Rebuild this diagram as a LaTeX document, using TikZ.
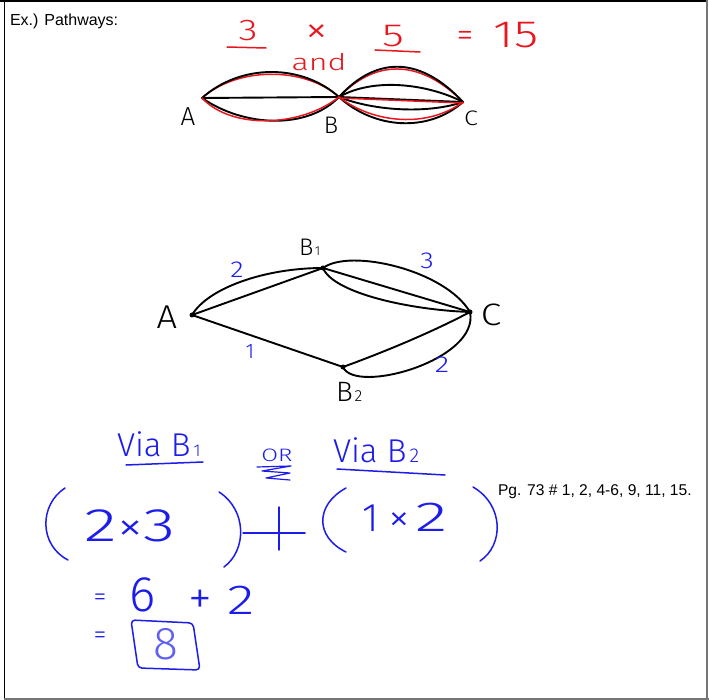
\documentclass[tikz,border=0pt]{standalone}
\usepackage{fontspec}
\usepackage{graphicx}
\setmainfont{Liberation Sans}
\IfFontExistsTF{Fira Sans Light}{\newfontfamily\hand{Fira Sans Light}}{\newfontfamily\hand{Fira Sans}}
\newcommand\hs[1]{\hand\fontsize{#1}{#1}\selectfont}
\newcommand\ps[1]{\fontsize{#1}{#1}\selectfont}
\newcommand\wx[2]{\scalebox{#1}[1]{#2}}
\definecolor{hred}{RGB}{232,22,30}
\definecolor{hblue}{RGB}{28,28,235}
\definecolor{lblue}{RGB}{95,95,240}
\definecolor{fgray}{RGB}{118,118,118}
\tikzset{
  blk/.style={line width=1.9pt, black, line cap=round},
  rl/.style={line width=1.5pt, hred, line cap=round},
  bl/.style={line width=1.5pt, hblue, line cap=round, line join=round},
  lbl/.style={inner sep=0pt, outer sep=0pt},
  dot/.style={circle, fill=black, inner sep=0pt, minimum size=5pt},
}
\begin{document}
\begin{tikzpicture}[x=1pt,y=-1pt]
\useasboundingbox (0,0) rectangle (709,700);
\fill[white] (0,0) rectangle (709,700);
% frame
\draw[fgray, line width=2.6pt] (707,0) -- (707,700);
\draw[fgray, line width=2.6pt] (4,698.8) -- (709,698.8);
\draw[black, line width=2.2pt] (0,1.1) -- (706,1.1);
\draw[black, line width=1.4pt] (4.7,0) -- (4.7,697.5);

% header texts
\node[lbl, anchor=base west] (title) at (10,26) {\ps{16}Ex.) Pathways:};
\node[lbl, anchor=base west] (pg) at (498,495) {\ps{15.6}Pg. 73 \# 1, 2, 4-6, 9, 11, 15.};

% ---------- top: 3 x 5 = 15 ----------
\node[lbl, text=hred] (t3) at (248,31) {\hs{30}\wx{1.3}{3}};
\node[lbl, text=hred] (tx) at (317,34) {\hs{40}\wx{1.15}{×}};
\node[lbl, text=hred] (t5) at (393,36) {\hs{32}\wx{1.4}{5}};
\node[lbl, text=hred] (teq) at (465,39) {\hs{34}=};
\node[lbl, text=hred] (t15) at (516,35) {\hs{38}\wx{1.3}{15}};
\node[lbl, text=hred] (tand) at (319,62) {\hs{23}\wx{1.4}{and}};
\coordinate (u3a) at (227,47); \coordinate (u3b) at (266,48);
\coordinate (u5a) at (375,50); \coordinate (u5b) at (420,52);
\draw[rl] (u3a) -- (u3b);
\draw[rl] (u5a) -- (u5b);

\coordinate (tA) at (202,98);
\coordinate (tB) at (339,97);
\coordinate (tC) at (463,102);
% red underlays
\draw[rl] (tA) .. controls +(35,-31) and +(-35,-31) .. (tB);
\draw[rl] (tB) .. controls +(40,-41) and +(-40,-40) .. (tC);
% black pathways
\draw[blk] (tA) .. controls +(38,-34) and +(-38,-34) .. (tB);
\draw[blk] (tA) -- (tB);
\draw[blk] (tA) .. controls +(42,29) and +(-32,33) .. (tB);
\draw[blk] (tB) .. controls +(40,-44) and +(-40,-43) .. (tC);
\draw[blk] (tB) .. controls +(35,-20) and +(-35,-18) .. (tC);
\draw[blk] (tB) -- (tC);
\draw[blk] (tB) .. controls +(35,14) and +(-35,12) .. (tC);
\draw[blk] (tB) .. controls +(35,32) and +(-35,31) .. (tC);
% red overlays
\draw[rl] (tA) .. controls +(30,32) and +(-38,30) .. (tB);
\draw[rl] ([yshift=-1pt]tB) -- ([yshift=-1pt]tC);
\draw[rl] (tB) .. controls +(35,27) and +(-35,26) .. (tC);
% labels
\node[lbl] (ltA) at (188,117) {\hs{26}A};
\node[lbl] (ltB) at (331,125) {\hs{24}B};
\node[lbl] (ltC) at (471,118) {\hs{21}\wx{1.2}{C}};

% ---------- middle graph ----------
\node[dot] (A) at (192,315) {};
\node[dot] (B1) at (323,268) {};
\node[dot] (C) at (470,312) {};
\node[dot] (B2) at (343,367) {};
\draw[blk] (A.center) .. controls (208,288) and (265,268) .. (B1.center);
\draw[blk] (A.center) -- (B1.center);
\draw[blk] (B1.center) .. controls (350,248) and (445,270) .. (C.center);
\draw[blk] (B1.center) -- (C.center);
\draw[blk] (B1.center) .. controls (333,293) and (410,310) .. (C.center);
\draw[blk] (A.center) -- (B2.center);
\draw[blk] (B2.center) .. controls (395,348) and (440,328) .. (C.center);
\draw[blk] (B2.center) .. controls (355,395) and (480,360) .. (C.center);
\node[lbl] (lA) at (167,317) {\hs{33}\wx{1.1}{A}};
\node[lbl, anchor=base west] (lB1) at (299,256) {\hs{24}B\kern1.5pt{\hs{13}1}};
\node[lbl] (lC) at (491,315) {\hs{31}\wx{1.2}{C}};
\node[lbl, anchor=base west] (lB2) at (336,401) {\hs{28}B\kern2pt{\hs{16}2}};
\node[lbl, text=hblue] (w1) at (237,270) {\hs{23}\wx{1.2}{2}};
\node[lbl, text=hblue] (w2) at (427,261) {\hs{23}\wx{1.2}{3}};
\node[lbl, text=hblue] (w3) at (250,352) {\hs{21}1};
\node[lbl, text=hblue] (w4) at (442,365) {\hs{23}\wx{1.3}{2}};

% ---------- bottom ----------
\node[lbl, anchor=base west, text=hblue] (via1) at (117,456) {\hs{33}Via B\kern3pt{\hs{17}1}};
\coordinate (ul1a) at (126,465); \coordinate (ul1b) at (203,462);
\draw[bl] (ul1a) -- (ul1b);
\node[lbl, text=hblue] (or) at (277,455) {\hs{18}\wx{1.35}{OR}};
\coordinate (sq1) at (257,467); \coordinate (sq2) at (291,466);
\coordinate (sq3) at (262,471); \coordinate (sq4) at (290,473);
\coordinate (sq5) at (266,478); \coordinate (sq6) at (290,480);
\draw[bl, line width=1.2pt] (sq1) -- (sq2) -- (sq3) -- (sq4) -- (sq5) -- (sq6);
\node[lbl, anchor=base west, text=hblue] (via2) at (333,462) {\hs{33}Via B\kern3pt{\hs{20}2}};
\coordinate (ul2a) at (337,469); \coordinate (ul2b) at (445,475);
\draw[bl] (ul2a) -- (ul2b);

% parentheses and plus
\coordinate (p1a) at (65,488); \coordinate (p1b) at (68,560);
\draw[bl] (p1a) .. controls (39,505) and (39,545) .. (p1b);
\coordinate (p2a) at (219,492); \coordinate (p2b) at (224,567);
\draw[bl] (p2a) .. controls (247,510) and (247,550) .. (p2b);
\coordinate (pla) at (243,533); \coordinate (plb) at (305,533);
\coordinate (plc) at (279,507); \coordinate (pld) at (279,550);
\draw[bl] (pla) -- (plb);
\draw[bl] (plc) -- (pld);
\coordinate (p3a) at (346,488); \coordinate (p3b) at (346,552);
\draw[bl] (p3a) .. controls (315,505) and (315,537) .. (p3b);
\coordinate (p4a) at (473,487); \coordinate (p4b) at (480,561);
\draw[bl] (p4a) .. controls (504,505) and (504,545) .. (p4b);

\node[lbl, anchor=base west, text=hblue] (m1) at (84,541)
  {\hs{47}\wx{1.45}{2}\kern1pt{\hs{44}\wx{1.2}{×}}\kern0pt\wx{1.4}{3}};
\node[lbl, anchor=base west, text=hblue] (m2) at (362,531)
  {\hs{40}1\kern10pt{\hs{40}\wx{1.1}{×}}\kern5pt\hs{42}\wx{1.6}{2}};

\node[lbl, text=hblue] (eq1) at (100,600) {\hs{26}=};
\node[lbl, text=hblue] (six) at (143,595) {\hs{50}6};
\node[lbl, text=hblue] (pl) at (200,602) {\hs{48}+};
\node[lbl, text=hblue] (two) at (241,600) {\hs{42}\wx{1.35}{2}};
\node[lbl, text=hblue] (eq2) at (100,638) {\hs{26}=};
\node[lbl, text=lblue] (eight) at (166,644) {\hs{46}8};
\coordinate (bx1) at (131,620); \coordinate (bx2) at (193,623);
\coordinate (bx3) at (200,670); \coordinate (bx4) at (138,668);
\draw[bl, rounded corners=4pt] (bx1) -- (bx2) -- (bx3) -- (bx4) -- cycle;
\end{tikzpicture}
\end{document}
